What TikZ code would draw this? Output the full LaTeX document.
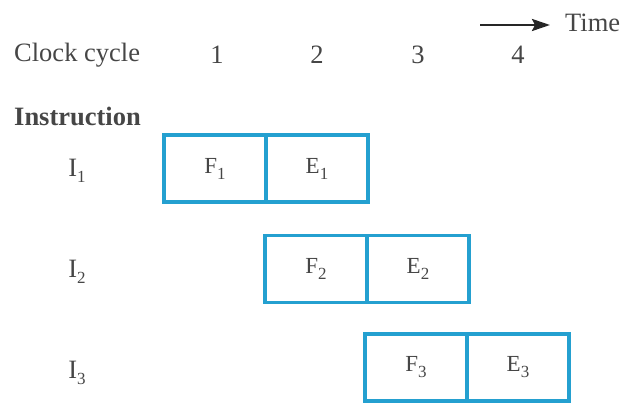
\documentclass[tikz,border=0pt]{standalone}
\usepackage{fontspec}
\setmainfont{Liberation Serif}
\usetikzlibrary{arrows.meta}
\definecolor{boxblue}{RGB}{36,160,208}
\definecolor{txt}{RGB}{70,70,70}
\newcommand\subsc[1]{\raisebox{-6pt}{\fontsize{17}{17}\selectfont #1}}
\tikzset{
  lbl/.style={text=txt, inner sep=0pt, font=\fontsize{26.5}{29}\selectfont},
  cell/.style={draw=boxblue, line width=3.5pt, minimum width=102pt, minimum height=67pt,
               inner sep=0pt, text=txt, font=\fontsize{23}{25}\selectfont},
  timearrow/.style={line width=2.6pt, -{Stealth[length=18pt,width=12pt,inset=3pt]}, draw=black!85}
}
\begin{document}
\begin{tikzpicture}[x=1pt,y=-1pt]
\useasboundingbox (0,0) rectangle (620,403);
% header
\node[lbl, anchor=west] (clk) at (14,55) {Clock cycle};
\node[lbl] (c1) at (217,55) {1};
\node[lbl] (c2) at (317,55) {2};
\node[lbl] (c3) at (418,55) {3};
\node[lbl] (c4) at (518,55) {4};
\coordinate (ta) at (480,25);
\coordinate (tb) at (550,25);
\draw[timearrow] (ta) -- (tb);
\node[lbl, anchor=west] (time) at (565,23) {Time};
\node[lbl, anchor=west, font=\fontsize{26.5}{29}\selectfont\bfseries] (instr) at (14,116) {Instruction};
% instruction labels
\node[lbl] (i1) at (77,171) {I\subsc{1}};
\node[lbl] (i2) at (77,272) {I\subsc{2}};
\node[lbl] (i3) at (77,373) {I\subsc{3}};
% cells
\node[cell] (f1) at (215,168.5) {F\subsc{1}};
\node[cell] (e1) at (317,168.5) {E\subsc{1}};
\node[cell] (f2) at (316,269) {F\subsc{2}};
\node[cell] (e2) at (418,269) {E\subsc{2}};
\node[cell] (f3) at (416,367.5) {F\subsc{3}};
\node[cell] (e3) at (518,367.5) {E\subsc{3}};
\end{tikzpicture}
\end{document}
